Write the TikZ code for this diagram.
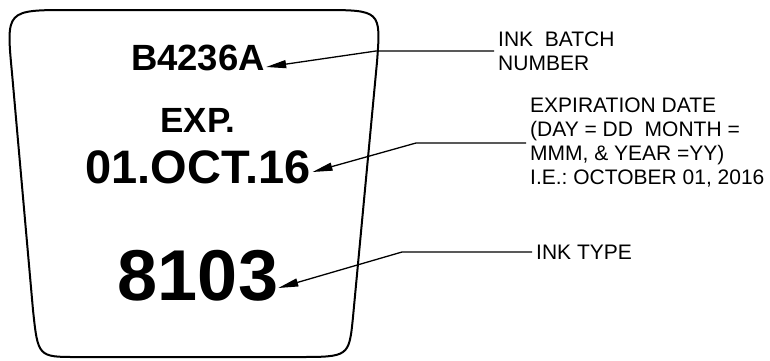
\documentclass[tikz,border=0pt]{standalone}
\usepackage{fontspec}
\setmainfont{Liberation Sans}
\usetikzlibrary{arrows.meta,calc}
\frenchspacing

\begin{document}
\begin{tikzpicture}[x=1pt,y=-1pt,
    card/.style={line width=2pt,line join=round},
    cardtext/.style={font=\bfseries,inner sep=0pt,anchor=base},
    inklabel/.style={anchor=west,align=left,inner xsep=4pt,inner ysep=0pt,font=\fontsize{21}{24}\selectfont},
    leader/.style={line width=1.3pt,-{Triangle[length=20pt,width=8pt]}}
]
\useasboundingbox (0,0) rectangle (770,360);
% card outline
\draw[card] (70,10) -- (320,10) .. controls (381,10) .. (377,62) -- (353,317)
  .. controls (349,357) .. (297,357) -- (77,357) .. controls (38,357) .. (33,310)
  -- (12,73) .. controls (6,10) .. (70,10) -- cycle;
% printed codes
\node[cardtext,font=\fontsize{36.5}{40}\bfseries] (batch) at (198,70) {B4236A};
\node[cardtext,font=\fontsize{35}{40}\bfseries] (exp) at (198,132) {EXP.};
\node[cardtext,font=\fontsize{47}{52}\bfseries] (date) at (198,183) {01.OCT.16};
\node[cardtext,font=\fontsize{72}{80}\bfseries] (type) at (198,300) {8103};
% labels
\node[inklabel] (batchlbl) at (494,51) {INK~ BATCH\\NUMBER};
\node[inklabel] (datelbl) at (526,143) {EXPIRATION DATE\\(DAY = DD~ MONTH =\\MMM, \& YEAR =YY)\\I.E.: OCTOBER 01, 2016};
\node[inklabel] (typelbl) at (532,252) {INK TYPE};
% leaders
\draw[leader] (batchlbl.west) -- ++(-118,0) -- ($(batch.base east)+(1,-3)$);
\draw[leader] (datelbl.west) -- ++(-110,0) -- ($(date.base east)+(2,-11)$);
\draw[leader] (typelbl.west) -- ++(-130,0) -- ($(type.base east)+(0,-12)$);
\end{tikzpicture}
\end{document}
